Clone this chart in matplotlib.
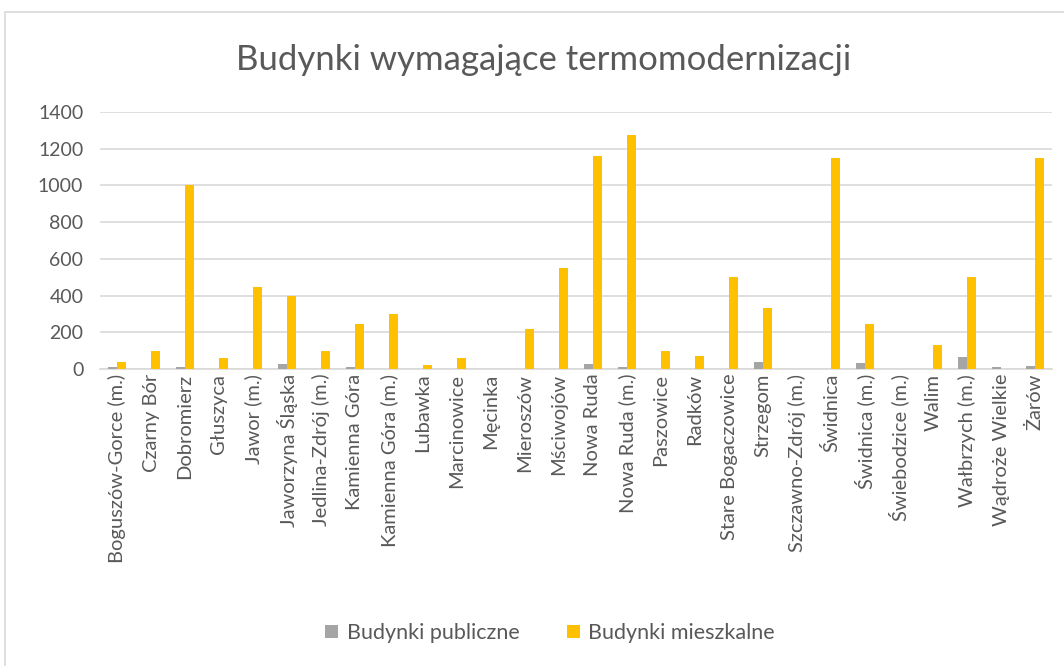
import matplotlib
matplotlib.use("Agg")
import matplotlib.pyplot as plt
import numpy as np
from matplotlib.patches import Rectangle

plt.rcParams['font.family'] = ['Lato', 'DejaVu Sans']

# gminy i liczby budynków do termomodernizacji
gminy = ["Boguszów-Gorce (m.)", "Czarny Bór", "Dobromierz", "Głuszyca", "Jawor (m.)",
         "Jaworzyna Śląska", "Jedlina-Zdrój (m.)", "Kamienna Góra", "Kamienna Góra (m.)",
         "Lubawka", "Marcinowice", "Męcinka", "Mieroszów", "Mściwojów", "Nowa Ruda",
         "Nowa Ruda (m.)", "Paszowice", "Radków", "Stare Bogaczowice", "Strzegom",
         "Szczawno-Zdrój (m.)", "Świdnica", "Świdnica (m.)", "Świebodzice (m.)", "Walim",
         "Wałbrzych (m.)", "Wądroże Wielkie", "Żarów"]
publiczne = [12, 0, 12, 0, 0, 27, 0, 12, 0, 0, 0, 0, 0, 0, 27,
             12, 0, 0, 0, 40, 0, 0, 35, 0, 0, 65, 10, 18]
mieszkalne = [40, 100, 1000, 62, 445, 400, 100, 245, 300, 20, 62, 0, 216, 550, 1160,
              1275, 100, 70, 500, 335, 0, 1150, 245, 0, 130, 500, 0, 1150]

W, H = 1064, 666
fig = plt.figure(figsize=(W / 100, H / 100), dpi=100)

# ramka wykresu
fig.patches.append(Rectangle((5 / W, -0.05), 1.0, 1.05 - 12 / H, transform=fig.transFigure,
                             fill=False, edgecolor="#D9D9D9", linewidth=1.2))

ax = fig.add_axes([100 / W, (H - 369) / H, (1052 - 100) / W, (369 - 112) / H])

x = np.arange(len(gminy))
bw = 0.25
ax.bar(x - 0.135, publiczne, width=bw, color="#A5A5A5", label="Budynki publiczne", zorder=3)
ax.bar(x + 0.135, mieszkalne, width=bw, color="#FFC000", label="Budynki mieszkalne", zorder=3)

ax.set_xlim(-0.5, len(gminy) - 0.5)
ax.set_ylim(0, 1400)
ax.set_yticks(range(0, 1401, 200))
ax.yaxis.grid(True, color="#D9D9D9", linewidth=1.2, zorder=0)
ax.set_axisbelow(True)
for s in ["top", "right", "left"]:
    ax.spines[s].set_visible(False)
ax.spines["bottom"].set_color("#D9D9D9")
ax.spines["bottom"].set_linewidth(1.2)
ax.tick_params(axis="both", length=0, colors="#595959", labelsize=14)
ax.tick_params(axis="y", pad=12)
ax.set_xticks(x)
ax.set_xticklabels(gminy, rotation=90, fontsize=14.5)

fig.text(544 / W, 1 - 60 / H, "Budynki wymagające termomodernizacji",
         ha="center", va="center", fontsize=25, color="#595959")

fig.legend(loc="center", bbox_to_anchor=(550 / W, 1 - 633 / H), ncol=2, frameon=False,
           fontsize=15.5, labelcolor="#595959", handlelength=0.6, handleheight=0.6,
           columnspacing=2.2, handletextpad=0.4)

fig.savefig("out.png", dpi=100)
